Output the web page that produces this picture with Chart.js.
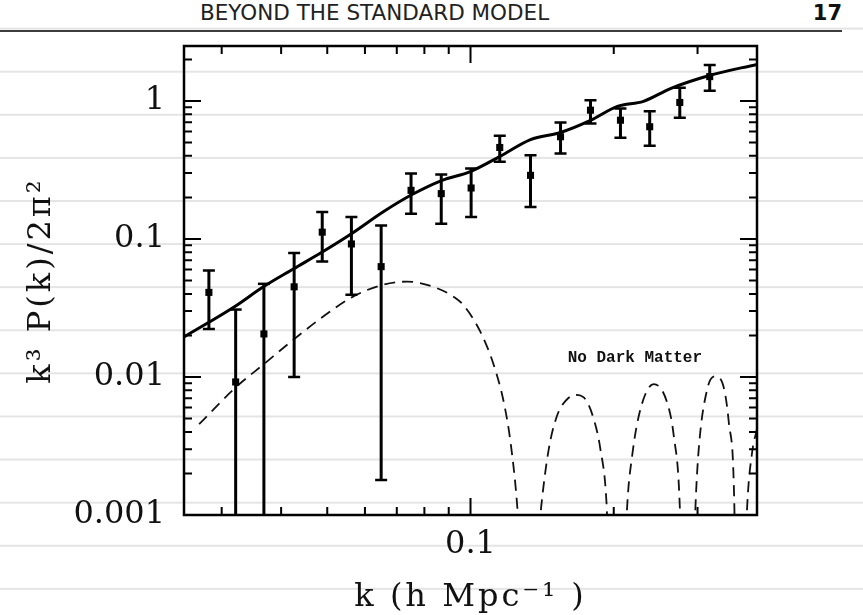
<!DOCTYPE html>
<html>
<head>
<meta charset="utf-8">
<script src="https://cdn.jsdelivr.net/npm/chart.js@4.4.1/dist/chart.umd.min.js"></script>
<style>
  html, body { margin: 0; padding: 0; }
  body {
    width: 863px; height: 615px; position: relative; overflow: hidden;
    background-color: #fff;
    /* ruled page lines */
    background-image: linear-gradient(to bottom, transparent 41px, #e4e4e4 41px, #e4e4e4 43px);
    background-size: 100% 43.1px;
    background-position: 0 29.6px;
  }
  #running-head { position: absolute; left: 200px; top: 0; font: 21.5px/26px "DejaVu Sans"; color: #222; white-space: nowrap; }
  #page-no { position: absolute; right: 21px; top: 0; font: bold 21px/26px "DejaVu Sans"; color: #111; }
  #head-rule { position: absolute; left: 0; top: 30px; width: 842px; height: 2px; background: #3c3c3c; }
  #chart { position: absolute; left: 0; top: 0; }
</style>
</head>
<body>
<div id="running-head">BEYOND THE STANDARD MODEL</div>
<div id="page-no">17</div>
<div id="head-rule"></div>
<canvas id="chart" width="863" height="615"></canvas>
<script>
// band powers k^3 P(k)/2pi^2 with 1-sigma errors
const kBins   = [0.0282, 0.0321, 0.0368, 0.0426, 0.0488, 0.0562, 0.0649, 0.0750, 0.0868, 0.1003, 0.1152, 0.1337, 0.1546, 0.1787, 0.2066, 0.2380, 0.2753, 0.3182];
const power   = [0.041, 0.0092, 0.0205, 0.045, 0.112, 0.092, 0.063, 0.225, 0.213, 0.234, 0.46, 0.289, 0.55, 0.857, 0.725, 0.65, 0.975, 1.50];
const powerHi = [0.059, 0.0308, 0.0473, 0.079, 0.157, 0.144, 0.125, 0.298, 0.293, 0.324, 0.559, 0.404, 0.698, 1.013, 0.882, 0.843, 1.247, 1.82];
const powerLo = [0.0223, 0, 0, 0.0100, 0.0686, 0.0395, 0.00179, 0.152, 0.129, 0.144, 0.362, 0.1705, 0.416, 0.686, 0.54, 0.473, 0.755, 1.186]; // 0 = runs off the bottom

// model with dark matter
const modelK = [0.025, 0.0321, 0.0367, 0.0425, 0.0489, 0.0562, 0.0657, 0.0752, 0.0869, 0.100, 0.1151, 0.1337, 0.1545, 0.1787, 0.2036, 0.2309, 0.2631, 0.3177, 0.40];
const modelP = [0.0195, 0.0327, 0.045, 0.0608, 0.0807, 0.109, 0.158, 0.209, 0.265, 0.308, 0.395, 0.525, 0.590, 0.722, 0.912, 0.992, 1.23, 1.53, 1.84];

// baryons only: |P| dips through zero between the oscillations (null = break)
const noDmK = [0.0269, 0.0321, 0.0368, 0.0426, 0.0488, 0.0564, 0.0647, 0.0736, 0.0838, 0.0925, 0.0968, 0.105, 0.112, 0.1175, 0.1214, 0.1253, 0.1262, 0.131,
               0.1395, 0.1408, 0.146, 0.152, 0.1584, 0.1662, 0.173, 0.1816, 0.1875, 0.1931, 0.194, 0.203,
               0.2125, 0.2134, 0.2186, 0.2276, 0.2427, 0.2589, 0.2674, 0.2753, 0.276, 0.286,
               0.296, 0.297, 0.3017, 0.3144, 0.327, 0.338, 0.349, 0.3585, 0.359, 0.37,
               0.380, 0.3814, 0.3906, 0.40];
const noDmP = [0.00455, 0.0084, 0.0124, 0.0188, 0.0271, 0.0379, 0.0460, 0.0491, 0.0448, 0.0378, 0.0329, 0.0211, 0.0121, 0.00654, 0.00335, 0.00119, 0.0008, null,
               0.0008, 0.00115, 0.00299, 0.00523, 0.00671, 0.00743, 0.00711, 0.00494, 0.00299, 0.00123, 0.0008, null,
               0.0008, 0.00115, 0.00268, 0.00585, 0.00888, 0.00654, 0.00374, 0.00115, 0.0008, null,
               0.0008, 0.00115, 0.00299, 0.00817, 0.0101, 0.00914, 0.00468, 0.00115, 0.0008, null,
               0.0008, 0.00115, 0.00283, 0.0042];

const xTicks = [0.1];
const yTicks = [1, 0.1, 0.01, 0.001];
const kRange = [0.025, 0.4];
const pRange = [0.001, 2.5];

const serif = '"DejaVu Serif", "Liberation Serif", serif';
const pts = (xs, ys) => xs.map((x, i) => ({ x, y: ys[i] }));

// every 1..9 x 10^n inside a log range
function logMarks(lo, hi) {
  const out = [];
  for (let e = Math.floor(Math.log10(lo)); e <= Math.ceil(Math.log10(hi)); e++) {
    for (let m = 1; m < 10; m++) {
      const v = m * Math.pow(10, e);
      if (v > lo * 1.0001 && v < hi * 0.9999) out.push({ v, major: m === 1 });
    }
  }
  return out;
}

const errorBars = {
  id: 'errorBars',
  afterDatasetsDraw(chart) {
    const { ctx, chartArea: a, scales: { x, y } } = chart;
    ctx.save();
    ctx.beginPath();
    ctx.rect(a.left, a.top, a.right - a.left, a.bottom - a.top);
    ctx.clip();
    ctx.strokeStyle = '#000';
    kBins.forEach((k, i) => {
      const px = x.getPixelForValue(k);
      const top = y.getPixelForValue(powerHi[i]);
      const bot = powerLo[i] > 0 ? y.getPixelForValue(powerLo[i]) : a.bottom + 5;
      ctx.lineWidth = 3;
      ctx.beginPath();
      ctx.moveTo(px, top); ctx.lineTo(px, bot);
      ctx.stroke();
      ctx.lineWidth = 2.5;
      ctx.beginPath();
      ctx.moveTo(px - 6, top); ctx.lineTo(px + 6, top);
      if (powerLo[i] > 0) { ctx.moveTo(px - 6, bot); ctx.lineTo(px + 6, bot); }
      ctx.stroke();
    });
    ctx.restore();
  }
};

const frame = {
  id: 'frame',
  afterDraw(chart) {
    const { ctx, chartArea: a, scales: { x, y } } = chart;
    ctx.save();
    ctx.strokeStyle = '#000';
    ctx.lineWidth = 2;
    ctx.beginPath();
    // inward ticks on all four sides
    logMarks(x.min, x.max).forEach(({ v, major }) => {
      const px = x.getPixelForValue(v), len = major ? 17 : 8;
      ctx.moveTo(px, a.bottom); ctx.lineTo(px, a.bottom - len);
      ctx.moveTo(px, a.top); ctx.lineTo(px, a.top + len);
    });
    logMarks(y.min, y.max).forEach(({ v, major }) => {
      const py = y.getPixelForValue(v), len = major ? 17 : 8;
      ctx.moveTo(a.left, py); ctx.lineTo(a.left + len, py);
      ctx.moveTo(a.right, py); ctx.lineTo(a.right - len, py);
    });
    ctx.stroke();
    ctx.lineWidth = 2.5;
    ctx.strokeRect(a.left, a.top, a.right - a.left, a.bottom - a.top);

    // axis titles
    ctx.fillStyle = '#111';
    ctx.font = '32px ' + serif;
    ctx.letterSpacing = '3px';
    ctx.textAlign = 'center';
    ctx.textBaseline = 'alphabetic';
    ctx.fillText('k (h Mpc\u207B\u00B9 )', (a.left + a.right) / 2, 606);
    ctx.save();
    ctx.translate(50, (a.top + a.bottom) / 2);
    ctx.rotate(-Math.PI / 2);
    ctx.fillText('k\u00B3 P(k)/2\u03C0\u00B2', 0, 0);
    ctx.restore();

    // curve label
    ctx.letterSpacing = '0px';
    ctx.font = 'bold 16px "Liberation Mono", "DejaVu Sans Mono", monospace';
    ctx.textAlign = 'left';
    ctx.textBaseline = 'middle';
    ctx.fillText('No Dark Matter', x.getPixelForValue(0.16), y.getPixelForValue(0.0137));
    ctx.restore();
  }
};

new Chart(document.getElementById('chart'), {
  type: 'scatter',
  data: {
    datasets: [
      { data: pts(kBins, power), pointStyle: 'rect', pointRadius: 5, backgroundColor: '#000', borderWidth: 0 },
      { data: pts(modelK, modelP), showLine: true, borderColor: '#000', borderWidth: 3, pointRadius: 0,
        cubicInterpolationMode: 'monotone' },
      { data: pts(noDmK, noDmP), showLine: true, borderColor: '#111', borderWidth: 1.8, borderDash: [11, 7],
        pointRadius: 0, cubicInterpolationMode: 'monotone', spanGaps: false }
    ]
  },
  options: {
    responsive: false,
    animation: false,
    devicePixelRatio: 1,
    layout: { padding: { top: 46, right: 106, left: 0, bottom: 0 } },
    plugins: { legend: { display: false }, tooltip: { enabled: false } },
    scales: {
      x: {
        type: 'logarithmic', min: kRange[0], max: kRange[1],
        afterFit: s => { s.height = 100; },
        afterBuildTicks: s => { s.ticks = xTicks.map(v => ({ value: v })); },
        grid: { display: false, drawTicks: false },
        border: { display: false },
        ticks: { font: { family: serif, size: 32 }, color: '#111', padding: 10, maxRotation: 0, autoSkip: false,
                 callback: v => String(v) }
      },
      y: {
        type: 'logarithmic', min: pRange[0], max: pRange[1],
        afterFit: s => { s.width = 184; },
        afterBuildTicks: s => { s.ticks = yTicks.map(v => ({ value: v })); },
        grid: { display: false, drawTicks: false },
        border: { display: false },
        ticks: { font: { family: serif, size: 32 }, color: '#111', padding: 19, autoSkip: false,
                 callback: v => String(v) }
      }
    }
  },
  plugins: [errorBars, frame]
});
</script>
</body>
</html>
